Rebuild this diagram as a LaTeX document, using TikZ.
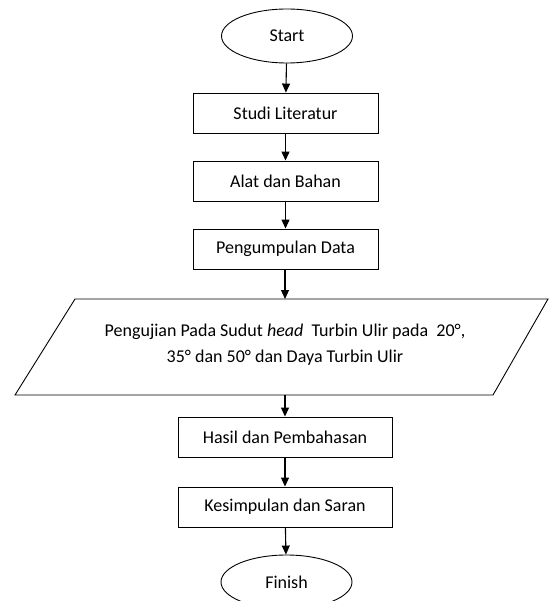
\documentclass[tikz,border=0pt]{standalone}
\usepackage{fontspec}
\setmainfont{Carlito}
\usetikzlibrary{arrows.meta,shapes.geometric}
\begin{document}
\begin{tikzpicture}[x=1pt,y=-1pt,
  font=\fontsize{18}{26}\selectfont,
  every node/.style={inner sep=0pt,line width=0.9pt},
  term/.style={draw,ellipse,minimum width=131pt,minimum height=54pt},
  stepbox/.style={draw,rectangle,minimum height=40pt},
  arr/.style={line width=1.1pt,-{Triangle[length=9pt,width=8pt]}}]
\useasboundingbox (0,0) rectangle (550,601);
\node[term] (start) at (287,36) {Start};
\node[stepbox,minimum width=185pt] (studi) at (285.5,113) {Studi Literatur};
\node[stepbox,minimum width=185pt] (alat) at (285.5,181) {Alat dan Bahan};
\node[stepbox,minimum width=185pt] (peng) at (285.5,249) {Pengumpulan Data};
\coordinate (tl) at (75,299);
\coordinate (tr) at (548,299);
\coordinate (br) at (493,395);
\coordinate (bl) at (15,395);
\draw[line width=0.9pt,line join=miter] (tl) -- (tr) -- (br) -- (bl) -- cycle;
\coordinate (ujitop) at (285,299);
\coordinate (ujibot) at (285,395);
\node[align=center] (ujitxt) at (285,345) {Pengujian Pada Sudut \textit{head}\ \ Turbin Ulir pada\ \ 20°,\\35° dan 50° dan Daya Turbin Ulir};
\node[stepbox,minimum width=214pt] (hasil) at (285,437) {Hasil dan Pembahasan};
\node[stepbox,minimum width=214pt] (kes) at (285,507) {Kesimpulan dan Saran};
\node[term] (fin) at (286.5,582) {Finish};
\draw[arr] (start) -- (studi);
\draw[arr] (studi) -- (alat);
\draw[arr] (alat) -- (peng);
\draw[arr] (peng.south -| ujitop) -- (ujitop);
\draw[arr] (ujibot) -- (hasil);
\draw[arr] (hasil) -- (kes);
\draw[arr] (kes) -- (fin);
\end{tikzpicture}
\end{document}
